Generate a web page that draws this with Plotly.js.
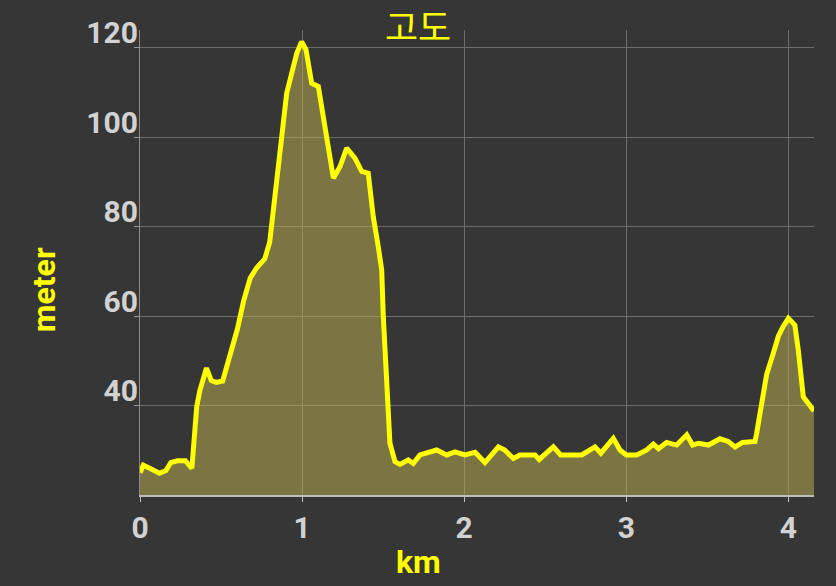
<!DOCTYPE html>
<html>
<head>
<meta charset="utf-8">
<script src="https://cdn.plot.ly/plotly-3.0.1.min.js"></script>
<style>
html,body{margin:0;padding:0;background:#363636;}
#chart{width:836px;height:586px;}
</style>
</head>
<body>
<div id="chart"></div>
<script>
// distance along route (km)
const distanceKm = [
  0.00, 0.02, 0.06, 0.12, 0.16, 0.19, 0.23, 0.28, 0.32, 0.35,
  0.37, 0.41, 0.44, 0.47, 0.51, 0.555, 0.60, 0.64, 0.68, 0.72,
  0.77, 0.80, 0.833, 0.864, 0.905, 0.967, 0.997, 1.024, 1.059, 1.10,
  1.141, 1.193, 1.234, 1.275, 1.326, 1.368, 1.408, 1.439, 1.47, 1.491,
  1.501, 1.522, 1.542, 1.573, 1.604, 1.655, 1.686, 1.727, 1.78, 1.83,
  1.892, 1.943, 2.005, 2.067, 2.128, 2.211, 2.25, 2.303, 2.344, 2.437,
  2.463, 2.55, 2.595, 2.725, 2.807, 2.843, 2.92, 2.961, 3.0, 3.064,
  3.126, 3.167, 3.198, 3.249, 3.311, 3.373, 3.409, 3.445, 3.507, 3.578,
  3.629, 3.671, 3.717, 3.794, 3.804, 3.835, 3.866, 3.907, 3.938, 3.965,
  4.0, 4.04, 4.061, 4.092, 4.158
];
// elevation (meter)
const elevationM = [
  25.0, 26.7, 26.0, 24.9, 25.5, 27.3, 27.7, 27.7, 26.0, 39.8,
  43.5, 48.4, 45.6, 45.2, 45.5, 51.5, 57.0, 63.5, 68.5, 70.8,
  72.8, 76.5, 86.7, 97.9, 109.8, 118.7, 121.3, 119.5, 112.0, 111.3,
  101.6, 90.8, 93.4, 97.5, 95.3, 92.3, 91.9, 82.2, 75.5, 70.3,
  59.9, 45.0, 31.6, 27.5, 26.9, 27.9, 27.1, 29.0, 29.6, 30.1,
  29.0, 29.7, 29.0, 29.6, 27.3, 30.8, 30.1, 28.2, 29.0, 29.0,
  28.0, 30.8, 29.0, 29.0, 30.8, 29.4, 32.7, 30.1, 29.0, 29.0,
  30.1, 31.4, 30.4, 31.8, 31.2, 33.5, 31.2, 31.6, 31.2, 32.6,
  32.0, 30.8, 31.8, 32.0, 33.8, 40.5, 47.0, 51.7, 55.5, 57.5,
  59.5, 58.0, 52.4, 42.0, 38.8
];
const xTicks = [0, 1, 2, 3, 4];
const yTicks = [40, 60, 80, 100, 120];

const trace = {
  x: distanceKm,
  y: elevationM,
  type: 'scatter',
  mode: 'lines',
  line: {color: '#ffff00', width: 5},
  fill: 'tozeroy',
  fillcolor: 'rgba(190,180,80,0.5)',
  hoverinfo: 'skip'
};

const tickFont = {family: 'Roboto, sans-serif', size: 30, color: '#d2d2d2', weight: 'bold'};
const yellowBold = {family: 'Roboto, sans-serif', size: 32, color: '#ffff00', weight: 'bold'};

const layout = {
  width: 836, height: 586,
  paper_bgcolor: '#363636',
  plot_bgcolor: '#363636',
  margin: {l: 140, r: 22, t: 30, b: 91},
  showlegend: false,
  title: {
    text: '고도',
    font: {family: '"Noto Sans CJK KR", sans-serif', size: 36, color: '#ffff00'},
    x: 0.5, xref: 'container', xanchor: 'center',
    y: 0.951, yref: 'container', yanchor: 'middle'
  },
  xaxis: {
    range: [0, 4.158],
    tickvals: xTicks,
    ticktext: xTicks.map(String),
    ticks: 'outside', ticklen: 5, tickwidth: 1, tickcolor: '#bdbdbd',
    tickfont: tickFont,
    ticklabelstandoff: 0,
    showgrid: true, gridcolor: '#6c6c6c', gridwidth: 1,
    showline: true, linecolor: '#bdbdbd', linewidth: 2,
    zeroline: false, fixedrange: true
  },
  yaxis: {
    range: [20.05, 123.9],
    tickvals: yTicks,
    ticktext: yTicks.map(String),
    ticks: 'outside', ticklen: 5, tickwidth: 1, tickcolor: '#9a9a9a',
    tickfont: tickFont,
    ticklabelshift: -15,
    ticklabelstandoff: -10,
    showgrid: true, gridcolor: '#6c6c6c', gridwidth: 1,
    showline: true, linecolor: '#8a8a8a', linewidth: 1,
    zeroline: false, fixedrange: true
  },
  annotations: [
    {
      text: 'km', xref: 'paper', yref: 'paper',
      x: 0.4125, y: -0.144, xanchor: 'center', yanchor: 'middle',
      showarrow: false, font: yellowBold
    },
    {
      text: 'meter', xref: 'paper', yref: 'paper',
      x: -0.142, y: 0.441, xanchor: 'center', yanchor: 'middle',
      textangle: -90, showarrow: false, font: yellowBold
    }
  ]
};

Plotly.newPlot('chart', [trace], layout, {displayModeBar: false, staticPlot: true});
</script>
</body>
</html>
